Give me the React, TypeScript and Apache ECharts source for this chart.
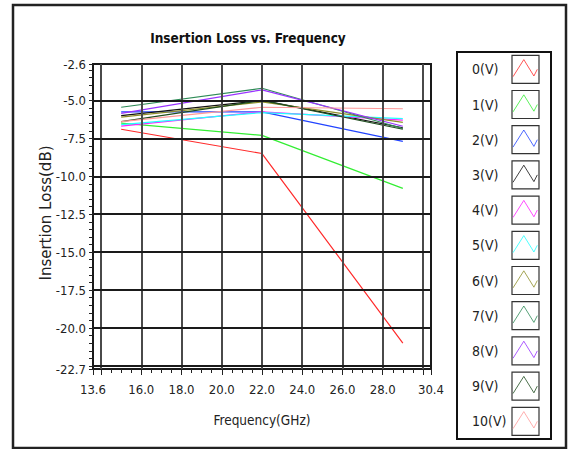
import React, { useEffect, useRef } from "react";
import * as echarts from "echarts";

// ---------- data ----------
const frequencies = [15, 22, 29];
const seriesNames = ["0(V)", "1(V)", "2(V)", "3(V)", "4(V)", "5(V)", "6(V)", "7(V)", "8(V)", "9(V)", "10(V)"];
const loss0V = [-6.9, -8.5, -21.0];
const loss1V = [-6.5, -7.3, -10.8];
const loss2V = [-5.75, -5.75, -7.7];
const loss3V = [-6.0, -5.0, -6.8];
const loss4V = [-6.7, -5.75, -6.3];
const loss5V = [-6.6, -5.8, -6.2];
const loss6V = [-6.1, -5.1, -6.45];
const loss7V = [-5.45, -4.2, -6.85];
const loss8V = [-5.85, -4.3, -6.7];
const loss9V = [-6.4, -5.0, -6.9];
const loss10V = [-6.4, -5.45, -5.55];
const allLosses = [loss0V, loss1V, loss2V, loss3V, loss4V, loss5V, loss6V, loss7V, loss8V, loss9V, loss10V];

const xLabelValues = [13.6, 16, 18, 20, 22, 24, 26, 28, 30.4];
const xMajorTicks = [13.6, 14, 16, 18, 20, 22, 24, 26, 28, 30, 30.4];
const xMinorTicks = [14.5, 15, 15.5, 16.5, 17, 17.5, 18.5, 19, 19.5, 20.5, 21, 21.5, 22.5, 23, 23.5, 24.5, 25, 25.5, 26.5, 27, 27.5, 28.5, 29, 29.5];
const xGridValues = [14, 16, 18, 20, 22, 24, 26, 28, 30];
const yLabelValues = [-2.6, -5, -7.5, -10, -12.5, -15, -17.5, -20, -22.7];
const yTickValues = [-2.6, -3, -3.5, -4, -4.5, -5, -5.5, -6, -6.5, -7, -7.5, -8, -8.5, -9, -9.5, -10, -10.5, -11, -11.5, -12, -12.5, -13, -13.5, -14, -14.5, -15, -15.5, -16, -16.5, -17, -17.5, -18, -18.5, -19, -19.5, -20, -20.5, -21, -21.5, -22, -22.5, -22.7];
const yGridValues = [-5, -7.5, -10, -12.5, -15, -17.5, -20, -22.5];

// ---------- style ----------
const lineColors = ["#ff2a2a", "#33ee33", "#2244ff", "#111111", "#ff22ff", "#22ffff", "#8f8f2a", "#2e8b57", "#9933ff", "#1f4d1f", "#ff9a9a"];
const FONT = '"Liberation Sans Narrow", "DejaVu Sans Condensed", "Liberation Sans", sans-serif';

export default function App() {
  const ref = useRef<HTMLDivElement>(null);
  useEffect(() => {
    if (!ref.current) return;
    const chart = echarts.init(ref.current, null, { renderer: "svg" });

    const dataSeries = allLosses.map((vals, i) => ({
      name: seriesNames[i],
      type: "line",
      xAxisIndex: 0,
      yAxisIndex: 0,
      data: frequencies.map((f, j) => [f, vals[j]]),
      symbol: "none",
      z: 3,
      lineStyle: { color: lineColors[i], width: 1.2 },
      itemStyle: { color: lineColors[i] },
    }));

    const gridSeries = {
      type: "line",
      xAxisIndex: 0,
      yAxisIndex: 0,
      data: [],
      symbol: "none",
      z: 1,
      silent: true,
      markLine: {
        silent: true,
        symbol: "none",
        label: { show: false },
        animation: false,
        data: [
          ...xGridValues.map((v) => ({ xAxis: v, lineStyle: { color: "#4a4a4a", width: 2, type: "solid" } })),
          ...yGridValues.map((v) => ({ yAxis: v, lineStyle: { color: "#1a1a1a", width: 2, type: "solid" } })),
        ],
      },
    };

    const legendGraphics: any[] = [];
    legendGraphics.push({
      type: "rect",
      shape: { x: 457, y: 52, width: 94, height: 387 },
      style: { fill: "none", stroke: "#111", lineWidth: 2 },
    });
    seriesNames.forEach((name, i) => {
      const cy = 69.3 + i * 35.2;
      legendGraphics.push({
        type: "text",
        x: 472,
        y: cy,
        style: { text: name, fontFamily: FONT, fontSize: 14, fill: "#222", textVerticalAlign: "middle", textAlign: "left" },
      });
      legendGraphics.push({
        type: "rect",
        shape: { x: 512, y: cy - 14, width: 27, height: 28 },
        style: { fill: "#fff", stroke: "#333", lineWidth: 1.2 },
      });
      legendGraphics.push({
        type: "polyline",
        shape: { points: [[513, cy + 7.4], [523.8, cy - 9.7], [533.9, cy + 6.7], [537.3, cy]] },
        style: { stroke: lineColors[i], lineWidth: 1, fill: "none", opacity: 0.8 },
      });
    });

    chart.setOption({
      animation: false,
      backgroundColor: "#fff",
      grid: {
        left: 93,
        top: 64,
        width: 338,
        height: 305,
        show: true,
        borderColor: "#1a1a1a",
        borderWidth: 2,
        backgroundColor: "transparent",
      },
      xAxis: [
        {
          type: "value",
          min: 13.6,
          max: 30.4,
          position: "bottom",
          axisLine: { show: true, onZero: false, lineStyle: { color: "#1a1a1a", width: 2 } },
          axisTick: { show: true, customValues: xMajorTicks, length: 6, lineStyle: { color: "#222", width: 1 } },
          axisLabel: {
            customValues: xLabelValues,
            formatter: (v: number) => v.toFixed(1),
            fontFamily: FONT,
            fontSize: 13,
            color: "#222",
            margin: 14,
          },
          splitLine: { show: false },
        },
        {
          type: "value",
          min: 13.6,
          max: 30.4,
          position: "bottom",
          axisLine: { show: false, onZero: false },
          axisTick: { show: true, customValues: xMinorTicks, length: 4, lineStyle: { color: "#222", width: 1 } },
          axisLabel: { show: false },
          splitLine: { show: false },
        },
      ],
      yAxis: [
        {
          type: "value",
          min: -22.7,
          max: -2.6,
          position: "left",
          axisLine: { show: true, onZero: false, lineStyle: { color: "#1a1a1a", width: 2 } },
          axisTick: { show: true, customValues: yTickValues, length: 4, lineStyle: { color: "#222", width: 1 } },
          axisLabel: {
            customValues: yLabelValues,
            formatter: (v: number) => v.toFixed(1),
            fontFamily: FONT,
            fontSize: 13,
            color: "#222",
            margin: 7,
          },
          splitLine: { show: false },
        },
      ],
      graphic: [
        {
          type: "rect",
          shape: { x: 13, y: 5, width: 553, height: 443 },
          style: { fill: "none", stroke: "#222", lineWidth: 2.5 },
          z: -1,
        },
        {
          type: "text",
          x: 248,
          y: 38,
          style: {
            text: "Insertion Loss vs. Frequency",
            fontFamily: FONT,
            fontWeight: "bold",
            fontSize: 13.5,
            fill: "#111",
            textAlign: "center",
            textVerticalAlign: "middle",
          },
        },
        {
          type: "text",
          x: 262,
          y: 420,
          style: {
            text: "Frequency(GHz)",
            fontFamily: FONT,
            fontSize: 13.5,
            fill: "#222",
            textAlign: "center",
            textVerticalAlign: "middle",
          },
        },
        {
          type: "text",
          x: 46,
          y: 213,
          rotation: Math.PI / 2,
          style: {
            text: "Insertion Loss(dB)",
            fontFamily: '"DejaVu Sans", sans-serif',
            fontSize: 15,
            fill: "#222",
            textAlign: "center",
            textVerticalAlign: "middle",
          },
        },
        ...legendGraphics,
      ],
      series: [gridSeries, ...dataSeries],
    });
    return () => chart.dispose();
  }, []);
  return <div ref={ref} style={{ position: "fixed", left: 0, top: 0, width: 570, height: 449 }} />;
}
